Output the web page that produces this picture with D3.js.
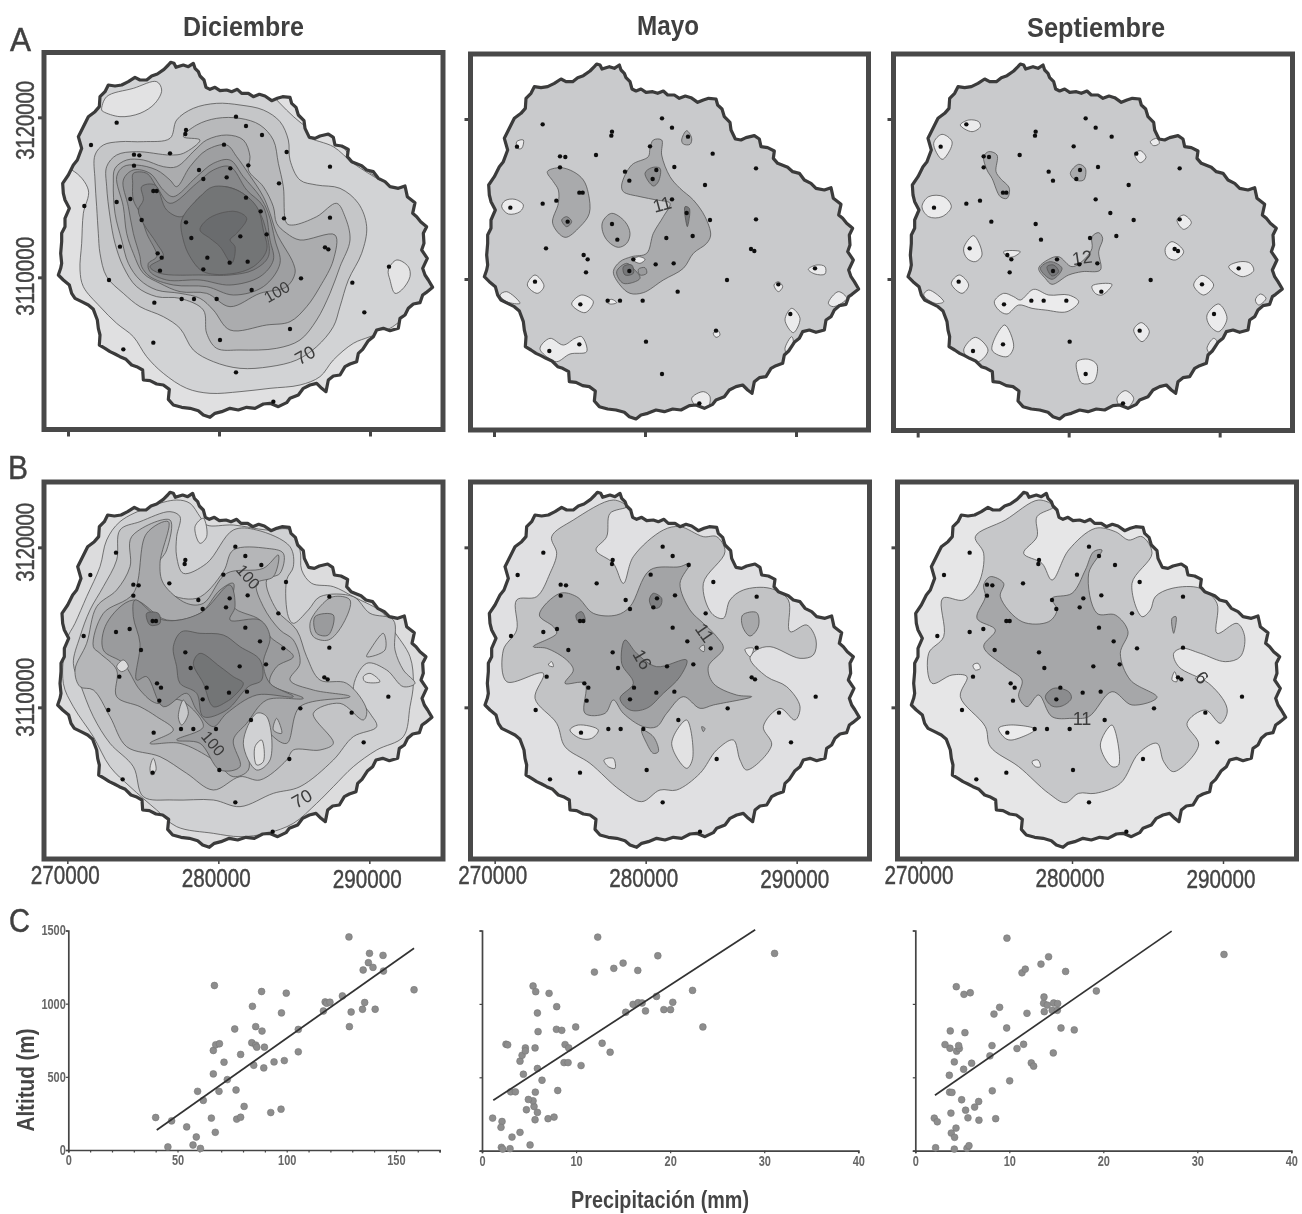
<!DOCTYPE html>
<html><head><meta charset="utf-8">
<script src="https://cdn.jsdelivr.net/npm/d3@7/dist/d3.min.js"></script>
<style>html,body{margin:0;background:#fff}svg{display:block}text{font-family:"Liberation Sans",Arial,sans-serif}</style>
</head><body><svg id="c" width="1302" height="1214" font-weight="700"></svg>
<script>
// ---------- DATA ----------
const months = ["Diciembre","Mayo","Septiembre"];
const rowLetters = ["A","B","C"];
const eastTicks = [270000,280000,290000];
const northTicks = [3120000,3110000];

// Digitised map coordinates (survey-sheet units; converted to UTM below)
const coast = [505,195,512,187,522,190,528,202,540,198,550,195,565,200,580,190,585,205,595,215,600,228,612,240,618,262,630,268,645,262,660,272,680,270,695,275,712,268,725,280,745,280,760,290,778,283,795,288,815,302,832,295,848,290,870,292,875,310,888,322,895,345,912,362,915,385,928,412,945,415,960,408,985,402,1000,412,1005,435,1025,438,1045,448,1042,470,1055,485,1085,497,1100,510,1120,515,1135,535,1155,545,1170,560,1195,565,1215,558,1222,590,1245,608,1238,640,1250,650,1262,665,1280,680,1270,700,1272,730,1265,750,1282,775,1268,805,1275,825,1285,840,1298,862,1278,878,1268,885,1260,908,1240,912,1225,925,1215,945,1200,955,1195,985,1170,992,1150,985,1130,990,1120,1010,1105,1022,1088,1048,1075,1060,1070,1085,1050,1092,1035,1100,1020,1125,1000,1128,985,1140,978,1175,965,1165,950,1150,930,1155,910,1165,895,1185,870,1195,860,1208,835,1220,810,1210,790,1212,765,1225,740,1222,715,1230,690,1225,665,1235,645,1240,630,1252,610,1245,595,1232,570,1225,545,1222,520,1215,505,1198,508,1168,490,1155,470,1152,450,1142,430,1140,428,1110,410,1100,395,1095,378,1078,360,1070,345,1062,330,1055,315,1045,298,1035,300,1005,295,985,292,960,280,928,265,915,245,905,225,895,215,880,208,855,190,840,175,825,182,805,185,790,182,760,185,725,185,700,195,680,195,655,208,625,195,600,190,580,188,550,205,525,220,495,232,480,245,445,235,410,250,380,265,350,285,335,298,320,300,290,315,275,325,255,345,258,365,255,385,245,405,232,420,240,440,240,455,228,472,222,492,208];
const stations = [350,368,273,435,253,618,327,840,370,1048,460,1028,463,908,545,897,582,897,650,897,755,870,903,835,1057,848,1093,937,870,987,660,1020,708,1117,820,1205,1167,800,975,742,985,748,990,653,852,655,800,703,782,634,837,550,860,456,990,500,786,405,738,378,708,350,672,434,745,496,691,505,680,532,738,593,597,510,610,537,510,460,402,464,418,466,402,497,460,573,470,573,391,597,350,606,425,660,558,667,574,714,721,709,622,773,689,788,743,785,610,808,480,812,473,760,485,773,360,740,558,390,556,402];

const decA = [
 [215,510,265,570,250,640,245,730,240,810,250,860,300,920,350,970,400,1010,440,1070,490,1120,560,1165,630,1180,720,1175,810,1165,900,1155,960,1130,1000,1080,1060,1030,1110,1010,1170,985,1200,965,1320,900,1330,500,950,400,600,100,200,150,100,500],
 [305,330,320,290,400,265,470,245,485,270,465,310,420,340,360,350,310,335],
 [1165,810,1190,780,1225,800,1230,830,1205,870,1185,880,1170,840],
 [935,415,1000,440,1060,490,1140,540,1060,480,1000,410],
 [510,415,530,360,580,325,650,310,720,315,790,330,840,365,865,420,870,480,900,540,950,555,1020,565,1075,610,1100,680,1085,760,1045,840,1020,920,1000,980,950,1040,890,1080,810,1100,720,1105,640,1085,580,1050,540,985,490,950,420,920,370,880,320,830,300,760,295,700,290,620,285,540,285,465,310,435,360,425,430,425],
 [550,410,590,375,650,355,720,355,780,375,820,420,835,490,850,560,860,670,880,675,950,650,1010,610,1035,650,1050,720,1020,800,990,880,950,960,900,1020,830,1045,720,1050,650,1045,620,1000,610,930,540,895,470,890,410,860,370,800,345,730,330,650,320,560,320,500,350,465,410,455,510,465,550,460,600,420],
 [585,450,620,420,680,405,730,420,750,470,745,510,790,560,820,620,830,670,860,700,900,720,1005,705,1000,780,960,860,920,920,870,965,800,975,690,990,640,930,600,895,540,880,470,870,420,840,385,790,365,720,345,640,340,550,345,505,380,480,430,480,490,500,530,500],
 [530,560,570,500,620,450,680,435,710,470,745,520,790,590,810,640,830,700,880,790,885,820,860,860,780,880,690,920,620,880,540,875,480,850,430,820,400,760,380,700,370,620,350,530,370,500,410,495,470,510,510,540],
 [520,590,590,530,640,490,690,480,730,530,780,590,805,640,825,720,840,790,790,860,700,885,620,860,520,855,450,830,425,800,420,770,400,700,385,620,370,540,400,510,450,520,490,570],
 [400,520,440,520,470,560,510,610,590,550,640,510,690,500,740,570,790,620,810,720,820,780,780,830,690,855,600,840,500,840,450,815,445,790,470,770,440,700,420,640,400,600,398,550],
 [425,560,465,555,500,630,545,650,600,590,660,560,720,575,775,630,800,700,805,770,760,810,690,825,610,825,480,820,450,800,490,770,470,730,430,670,415,630,430,600],
 [545,660,600,590,640,560,710,570,770,620,790,690,800,750,760,800,690,822,610,815,570,770,550,720],
 [600,690,620,660,660,640,710,635,740,655,710,700,690,720,705,740,695,790,660,740,630,715]
];
const decAShade = ["#d2d3d5","#e2e2e3","#e4e4e5","#e0e0e1","#c5c6c8","#b8b9bb","#abacae","#9e9fa1","#929395","#87888a","#7c7d7f","#737476","#6b6c6e"];

const mayA = [
 [292,515,330,503,370,515,400,540,415,580,418,640,390,680,345,712,308,670,325,610,325,570,310,545],
 [458,665,485,640,525,665,540,700,530,730,505,742,475,725,458,695],
 [600,445,610,420,635,420,635,465,660,530,690,565,730,600,765,650,782,705,770,730,730,760,700,805,640,840,580,878,540,880,510,855,490,815,510,785,545,770,590,760,610,700,640,650,660,610,620,600,570,590,520,575,515,555,545,495,595,470],
 [695,420,710,392,725,415,720,433,700,432],
 [585,520,605,503,630,505,625,545,610,558],
 [500,815,530,790,550,805,570,835,520,850],
 [335,660,350,650,365,665,350,680],
 [520,800,545,795,550,820,525,825],
 [705,620,718,625,712,680],
 [565,808,585,803,590,820,570,825],
 [155,620,165,602,195,598,220,615,210,635,175,642],
 [232,855,255,825,282,858,262,880],
 [365,912,395,885,430,905,405,938],
 [270,1045,300,1015,340,1035,375,1015,395,1010,410,1055,360,1062,320,1085,290,1070],
 [725,1195,760,1175,780,1190,770,1230,745,1225],
 [1005,960,1025,925,1050,955,1030,998],
 [1075,808,1100,795,1125,800,1125,822,1095,822],
 [972,855,985,845,998,860,985,875],
 [150,885,170,875,210,910,170,905],
 [1135,910,1165,875,1190,895,1150,920],
 [200,425,220,420,215,445,203,445],
 [1005,1045,1025,1010,1030,1025,1010,1060],
 [790,1000,802,990,810,1005,798,1012],
 [470,905,485,898,500,908,480,912],
 [550,780,565,770,585,778,570,790]
];
const mayAShade = ["#a9aaac","#a9aaac","#a9aaac","#a9aaac","#8f9092","#8f9092","#8f9092","#77787a","#77787a","#9a9b9d"].concat(d3.range(15).map(()=>"#ebebec"));

const sepA = [
 [335,470,350,455,375,465,372,515,385,535,412,565,405,595,385,590,360,535,345,510],
 [595,520,620,493,640,505,635,540,610,540],
 [500,805,530,778,560,770,600,800,640,775,660,745,660,710,680,698,692,715,680,755,685,810,630,815,590,825,540,853,520,835],
 [505,805,535,785,570,805,540,838],
 [525,800,545,795,560,815,540,828],
 [265,375,290,360,320,365,325,380,300,395],
 [185,430,210,403,240,425,225,465,210,478],
 [150,620,170,590,215,590,238,620,210,650,170,650],
 [275,745,305,707,330,765,310,785,285,775],
 [238,850,262,825,290,855,270,880],
 [155,885,170,870,215,905,190,910],
 [367,905,395,880,425,890,445,900,485,868,530,885,590,885,620,905,585,935,520,930,480,925,440,915,405,942,380,930],
 [275,1050,310,1012,348,1050,320,1085,290,1075],
 [360,1050,398,975,425,1040,405,1070],
 [615,1085,650,1078,675,1095,665,1145,630,1150,618,1125],
 [735,1195,760,1172,785,1195,765,1225,748,1225],
 [785,990,808,968,832,995,810,1025],
 [1005,945,1040,912,1065,955,1040,995,1012,975],
 [965,855,990,826,1025,855,995,885],
 [1070,800,1105,785,1135,790,1145,812,1110,830],
 [880,745,900,725,935,755,910,780,885,770],
 [915,660,935,645,958,668,935,688],
 [788,462,805,452,822,472,805,488],
 [660,858,720,853,690,885,670,880],
 [395,755,445,755,425,770,405,770],
 [835,425,855,415,862,430,845,437],
 [1150,900,1165,882,1182,895,1160,915],
 [1005,1045,1025,1015,1035,1025,1015,1060]
];
const sepAShade = ["#a9aaac","#a9aaac","#a9aaac","#88898b","#77787a"].concat(d3.range(23).map(()=>"#ebebec"));

const decB = [
 [200,570,225,520,260,440,300,350,320,270,360,215,450,170,530,150,570,160,600,200,620,225,700,225,800,240,870,240,900,300,905,360,935,400,1000,410,1060,440,1150,490,1180,540,1230,620,1240,700,1230,770,1210,860,1130,900,1060,950,1000,1010,950,1060,880,1120,800,1150,720,1160,640,1150,530,1130,470,1080,390,1010,330,950,280,860,220,770,190,700],
 [220,640,240,560,270,480,310,410,350,330,360,240,420,215,510,185,540,200,530,260,530,320,550,370,620,340,700,240,770,240,870,290,880,350,860,390,865,500,880,520,925,480,960,440,1060,440,1110,490,1180,510,1185,600,1210,660,1245,700,1210,710,1160,660,1100,640,1060,720,1110,790,1130,830,1060,860,1000,930,900,1010,820,1030,720,1070,640,1050,520,1050,430,1040,400,950,330,880,280,800,240,700],
 [585,230,610,205,620,260,600,280],
 [225,660,260,580,290,470,350,420,390,350,395,260,510,210,500,300,470,350,490,420,590,445,670,365,700,300,800,295,850,310,840,370,800,390,830,480,890,540,920,620,960,690,1040,700,1100,780,1090,810,1020,760,940,790,1000,880,960,900,880,900,860,930,780,990,720,980,640,1020,560,970,480,920,380,890,330,800,280,720,240,710],
 [930,520,960,470,1000,440,1050,450,1030,520,985,570,940,560],
 [945,500,1000,495,985,555,950,550],
 [1110,600,1150,550,1155,600,1100,620],
 [280,590,310,490,400,430,440,250,505,215,480,340,490,400,560,460,610,460,680,370,790,355,835,315,820,380,770,400,790,470,840,540,880,570,900,640,870,690,940,720,1050,740,900,770,860,880,810,850,780,790,740,860,745,960,700,980,640,930,540,880,450,880,520,840,470,800,420,770,350,740,350,660,300,610],
 [320,520,400,450,500,510,600,490,660,420,700,400,700,470,780,510,810,560,850,590,880,620,830,650,810,700,910,745,800,750,740,820,700,870,720,950,660,960,600,880,530,870,610,830,540,750,470,760,420,720,370,640,310,600],
 [405,450,490,510,600,490,690,405,705,470,690,510,780,510,810,560,790,640,810,700,880,740,770,735,680,790,640,830,590,780,560,730,490,770,440,680,410,690,420,580,400,500],
 [520,590,545,545,600,550,670,555,720,590,780,630,785,690,745,710,680,780,610,800,590,730,540,700,530,650],
 [580,640,600,610,660,650,700,680,730,700,700,740,680,755,640,770,610,700],
 [350,650,370,630,385,650,365,665],
 [535,800,550,750,565,790,545,825],
 [730,880,770,790,800,800,810,930,770,960],
 [765,890,785,870,790,935,770,945],
 [820,840,830,805,845,850],
 [450,955,460,925,468,960,455,975],
 [1090,680,1110,670,1140,695,1095,695],
 [440,490,475,490,480,520,450,525]
];
const decBShade = ["#d0d1d3","#c3c4c6","#dcdcdd","#b5b6b8","#b0b1b3","#9a9b9d","#c3c4c6","#a8a9ab","#9a9b9d","#8d8e90","#7f8082","#737476","#dadadb","#c8c9cb","#d0d1d3","#e0e0e0","#c3c4c6","#dddddd","#dcdcdd","#757678"];

const mayB = [
 [160,600,200,540,200,450,260,440,300,370,320,310,305,260,370,210,490,150,530,170,480,190,470,260,438,300,490,340,520,400,550,320,640,240,690,230,760,260,800,260,825,305,760,400,785,490,820,505,840,450,880,420,960,415,1015,450,1020,545,1070,525,1098,570,1090,615,1050,625,960,590,920,600,900,625,950,680,1010,710,1050,770,1035,810,990,775,940,830,965,885,890,960,870,930,850,870,800,900,750,970,680,1020,630,1020,575,1055,510,1020,420,940,345,890,320,820,255,745,280,670,170,695],
 [360,840,385,825,445,840,425,865,390,865],
 [462,930,490,925,495,955,475,950],
 [665,880,710,810,728,925,710,955],
 [885,598,910,595,900,620],
 [295,645,305,635,310,650],
 [268,495,330,430,380,440,430,490,500,495,540,470,600,360,690,350,720,340,690,400,720,480,760,520,800,560,820,595,775,650,790,700,860,735,905,740,790,765,750,775,700,740,650,790,620,830,580,830,520,790,490,750,465,790,405,790,405,700,345,700,370,660,350,630,290,595,250,590,320,550,310,530],
 [575,840,610,860,625,905,610,910,590,880],
 [878,495,920,488,925,530,900,558,878,530],
 [748,595,762,585,762,605],
 [515,640,525,570,560,610,620,650,710,630,690,680,640,730,590,775,540,780,510,745,550,700],
 [598,450,610,430,635,445,630,470,610,475],
 [378,495,395,485,405,510,385,515],
 [755,830,765,835,760,845]
];
const mayBShade = ["#c2c3c5","#e2e2e3","#e2e2e3","#e2e2e3","#e8e8e9","#e8e8e9","#a3a4a6","#a3a4a6","#a7a8aa","#d5d5d6","#858688","#7f8082","#808183","#a3a4a6"];

const sepB = [
 [170,610,215,560,212,445,275,450,320,400,335,310,310,260,400,210,500,150,545,170,495,200,495,260,455,310,510,340,540,390,590,300,670,235,730,245,770,270,810,260,840,310,780,400,810,500,835,480,850,440,900,415,985,415,1035,460,1035,550,1095,520,1118,560,1105,620,1060,635,985,610,930,595,905,610,920,650,1010,700,1060,760,1065,790,1045,820,1000,780,945,820,980,885,905,965,875,935,855,880,800,910,745,1000,670,1030,620,1030,580,1058,530,1030,440,950,355,890,340,830,265,740,285,680,240,675,180,700],
 [380,835,415,825,490,838,420,870,400,865],
 [480,935,498,930,505,950,490,950],
 [685,885,720,825,740,945,720,950],
 [303,645,318,640,325,655,310,660],
 [900,690,908,665,915,695],
 [900,505,912,500,905,550],
 [970,685,1000,668,1005,680,985,695],
 [315,505,340,440,335,405,355,380,395,400,385,440,450,515,530,515,555,480,540,445,600,430,640,360,665,305,690,300,650,370,675,490,730,495,768,545,745,610,775,690,855,742,780,765,720,725,650,800,600,805,540,800,500,735,465,770,440,740,450,690,400,650,335,590,370,540],
 [520,740,545,715,590,725,598,745,570,768,540,768]
];
const sepBShade = ["#c6c7c9","#ebebec","#ebebec","#ebebec","#ebebec","#ebebec","#a6a7a9","#ebebec","#a6a7a9","#8b8c8e"];

const decALabels = [["100",830,875,-30],["70",915,1065,-30]];
const mayALabels = [["11",636,612,-15]];
const sepALabels = [["12",630,772,-8]];
const decBLabels = [["100",745,380,50],["100",640,880,50],["70",905,1045,-30]];
const mayBLabels = [["11",765,548,55],["16",578,628,60]];
const sepBLabels = [["6",990,682,45],["11",630,805,0]];

// Scatter: precipitation (mm) and altitude (m)
const precDec = [40,47.3,54.2,45.6,58.6,57.1,60.5,59.2,61.8,65.5,67.3,66.4,66.4,67.5,69.2,69,66.9,71.3,72.8,76.2,76.8,77.1,78.9,78.9,80.5,84,84.3,84.9,85.8,85.8,86.3,88.7,88.5,89.8,89.5,92.7,94.2,97.4,97.6,98.9,99.8,105.3,105.3,116.8,117.6,118.3,119.8,125.5,128.5,128.7,129.5,134.7,135,135.7,137.4,137.9,139.5,140.5,144.1,144.3,158.3];
const altDec = [222,199,158,21,89,34,11,401,339,218,121,520,680,719,726,401,1124,600,481,827,410,211,224,653,298,733,982,579,843,717,703,813,1083,703,561,256,602,279,937,611,1072,824,671,950,1012,1003,1010,1053,1456,843,943,962,1230,1008,1280,1344,1248,962,1330,1223,1095];
const lineDec = [[40.5,137],[158.3,1379]];
const precMay = [1.13,2.13,2.02,4.04,3.19,2.06,2.2,2.98,5.11,5.64,4.72,5.89,5.53,5.43,4.93,5.67,3.05,3.55,8.05,6.38,4.4,5.89,4.04,4.26,4.61,4.61,2.55,2.73,5.64,5.96,5.89,5.43,5.71,7.13,7.94,7.91,8.48,9.96,8.83,9.22,8.72,9.15,10.53,7.02,7.66,12.77,13.62,11.95,14.01,15,12.3,16.56,18.69,15.28,16.06,16.6,17.02,17.38,18.55,19.33,20.04,20.28,22.38,23.48,31.1];
const altMay = [222,199,159,125,93,23,11,14,39,211,279,261,301,340,349,399,401,401,410,480,521,560,610,650,700,680,725,721,700,811,938,1122,1083,1072,981,827,820,843,723,700,600,600,580,218,229,732,671,1217,1242,1278,1455,1228,1328,943,997,1008,1006,952,1051,961,961,1011,1092,843,1344];
const lineMay = [[1.2,344],[29.04,1505]];
const precSep = [2.02,2.34,2.16,4.33,3.83,4.18,4.15,5.5,5.71,3.79,5.6,5.35,6.31,6.74,4.93,6.77,8.55,8.19,3.65,3.9,10.04,3.62,5.14,5.99,4.15,7.94,4.4,4.68,4.61,3.69,3.16,3.72,5.28,4.36,5.18,5.85,8.37,8.97,8.16,9.72,11.88,10.82,11.52,12.34,12.59,14.68,15.5,16.91,13.72,14.57,15.11,13.65,14.04,14.72,15.14,13.69,11.35,11.7,13.37,14.18,15.99,9.75,19.26,32.84];
const altSep = [222,197,20,154,120,91,11,16,34,256,224,276,297,335,347,208,218,408,399,397,476,514,555,596,605,646,678,696,716,698,723,816,804,1117,1065,1076,931,977,716,836,936,696,725,598,576,666,836,823,947,956,956,1004,992,1006,1002,1047,1212,1237,1271,1321,1221,1448,1088,1337];
const lineSep = [[2.09,378],[27.27,1496]];

// ---------- DRAW ----------
const svg = d3.select("#c");
svg.append("defs").append("filter").attr("id","soft")
  .attr("filterUnits","userSpaceOnUse").attr("x",0).attr("y",0).attr("width",1302).attr("height",1214)
  .append("feGaussianBlur").attr("stdDeviation",0.45);
const root = svg.append("g").attr("filter","url(#soft)");
const ink = "#444";
const pairs = a => d3.range(0,a.length,2).map(i=>[a[i],a[i+1]]);
const sheetPerKmX = 45.3, sheetPerKmY = 48;
const toUTM = (p,cx,cy) => [280000+(p[0]-cx)/sheetPerKmX*1000, 3120000-(p[1]-cy)/sheetPerKmY*1000];

function squeezed(sel,str,size,width){
  return sel.text(str).attr("font-size",size).attr("textLength",width).attr("lengthAdjust","spacingAndGlyphs");
}
// medium-weight look of the scanned numerals
const medium = sel => sel.attr("font-weight",400).attr("stroke",ink).attr("stroke-width",0.45);

const mapPanels = [
 {ox:0,  oy:0,  cx:657,cy:352,frame:[44,52.5,443,429.5],layers:decA,shade:decAShade,labels:decALabels,row:0},
 {ox:450,oy:0,  cx:585,cy:357,frame:[470.5,54,868.5,430],layers:mayA,shade:mayAShade,labels:mayALabels,row:0},
 {ox:872,oy:0,  cx:590,cy:357,frame:[893.5,54,1292.5,430.5],layers:sepA,shade:sepAShade,labels:sepALabels,row:0},
 {ox:0,  oy:450,cx:655,cy:292,frame:[44,482,443,859],layers:decB,shade:decBShade,labels:decBLabels,row:1},
 {ox:450,oy:450,cx:587,cy:292,frame:[470.5,482,869.5,859],layers:mayB,shade:mayBShade,labels:mayBLabels,row:1},
 {ox:872,oy:450,cx:600,cy:292,frame:[897.5,482,1296.5,859],layers:sepB,shade:sepBShade,labels:sepBLabels,row:1}
];
const refX=657, refY=352;
const coastUTM = pairs(coast).map(p=>toUTM(p,refX,refY));
const stationsUTM = pairs(stations).map(p=>toUTM(p,refX,refY));
const xLabelBase=[884,887,888];

mapPanels.forEach((p,i)=>{
  const x = d3.scaleLinear().domain([270000,290000]).range([p.ox+(p.cx-453)/3, p.ox+(p.cx+453)/3]);
  const y = d3.scaleLinear().domain([3110000,3120000]).range([p.oy+(p.cy+480)/3, p.oy+p.cy/3]);
  const g = root.append("g");
  const [fx0,fy0,fx1,fy1]=p.frame;
  const coastLine = d3.line().x(d=>x(d[0])).y(d=>y(d[1])).curve(d3.curveLinearClosed);
  const contourLine = d3.line().x(d=>x(d[0])).y(d=>y(d[1])).curve(d3.curveCatmullRomClosed.alpha(0.5));
  svg.select("defs").append("clipPath").attr("id","isl"+i).append("path").attr("d",coastLine(coastUTM));
  const base = ["#e0e0e1","#c9cacc","#c9cacc","#dcdcdd","#e0e0e2","#e6e6e7"][i];
  g.append("path").attr("d",coastLine(coastUTM)).attr("fill",base);
  const clip = g.append("g").attr("clip-path",`url(#isl${i})`);
  p.layers.forEach((l,k)=>{
    clip.append("path").attr("d",contourLine(pairs(l).map(q=>toUTM(q,p.cx,p.cy))))
      .attr("fill",p.shade[k]).attr("stroke","#555").attr("stroke-width",0.8);
  });
  p.labels.forEach(l=>{
    const u=toUTM([l[1],l[2]],p.cx,p.cy);
    g.append("text").attr("transform",`translate(${x(u[0])},${y(u[1])}) rotate(${l[3]})`)
      .attr("text-anchor","middle").attr("dy","0.36em").attr("font-size",l[0].length>2?16:18).attr("font-weight",400).attr("fill","#3a3a3a").text(l[0]);
  });
  g.append("path").attr("d",coastLine(coastUTM)).attr("fill","none").attr("stroke","#3a3a3a").attr("stroke-width",3.2).attr("stroke-linejoin","round");
  g.selectAll("circle").data(stationsUTM).join("circle").attr("cx",d=>x(d[0])).attr("cy",d=>y(d[1])).attr("r",2.2).attr("fill","#111");
  g.append("rect").attr("x",fx0).attr("y",fy0).attr("width",fx1-fx0).attr("height",fy1-fy0).attr("fill","none").attr("stroke","#4a4a4a").attr("stroke-width",5);
  const ax = g.append("g").attr("transform",`translate(0,${fy1+2})`).call(d3.axisBottom(x).tickValues(eastTicks).tickSize(p.row?3:5).tickFormat(""));
  ax.select(".domain").remove(); ax.selectAll("line").attr("stroke",ink).attr("stroke-width",p.row?1.5:3);
  const ay = g.append("g").attr("transform",`translate(${fx0-2},0)`).call(d3.axisLeft(y).tickValues(northTicks).tickSize(4).tickFormat(""));
  ay.select(".domain").remove(); ay.selectAll("line").attr("stroke",ink).attr("stroke-width",3);
  if(p.row===1){
    eastTicks.forEach((t,j)=>{
      squeezed(medium(g.append("text").attr("x",x(t)-2).attr("y",xLabelBase[j]).attr("text-anchor","middle").attr("fill",ink)),String(t),26,69);
    });
  }
  if(i===0||i===3){
    northTicks.forEach((t,j)=>{
      const dy = i===0?[3,-1][j]:[-5,-10][j];
      squeezed(medium(g.append("text").attr("transform",`translate(34,${y(t)+dy}) rotate(-90)`).attr("text-anchor","middle").attr("fill",ink)),String(t),26,79);
    });
  }
});

// Titles and letters
[[months[0],183,304,36],[months[1],637,699,35],[months[2],1027,1165,37]].forEach(t=>{
  squeezed(root.append("text").attr("x",t[1]).attr("y",t[3]).attr("fill","#3f3f3f"),t[0],28,t[2]-t[1]);
});
[[rowLetters[0],10,51,21],[rowLetters[1],8,479,20],[rowLetters[2],9,932,21]].forEach(t=>{
  squeezed(medium(root.append("text").attr("x",t[1]).attr("y",t[2]).attr("fill","#3f3f3f")),t[0],33,t[3]);
});

// Scatter panels
const scatter = [
 {prec:precDec,alt:altDec,line:lineDec,xMax:170,rx:[68.3,439.6],step:10,base:1150,labelEvery:50,yLabels:true},
 {prec:precMay,alt:altMay,line:lineMay,xMax:40,rx:[482,858.3],step:10,base:1150.7,labelEvery:10,yLabels:false},
 {prec:precSep,alt:altSep,line:lineSep,xMax:40,rx:[915.3,1291.3],step:10,base:1150.7,labelEvery:10,yLabels:false}
];
scatter.forEach(s=>{
  const x=d3.scaleLinear().domain([0,s.xMax]).range(s.rx);
  const y=d3.scaleLinear().domain([0,1500]).range([s.base,930.5]);
  const g=root.append("g");
  const ax=g.append("g").attr("transform",`translate(0,${s.base})`)
    .call(d3.axisBottom(x).tickValues(d3.range(0,s.xMax+1,s.step)).tickSize(2.5).tickPadding(3).tickFormat(d=>d%s.labelEvery===0?d:""));
  const ay=g.append("g").attr("transform",`translate(${s.rx[0]},0)`)
    .call(d3.axisLeft(y).tickValues([0,500,1000,1500]).tickSize(2.5).tickPadding(0).tickFormat(d=>s.yLabels?d:""));
  [ax,ay].forEach(a=>{
    a.select(".domain").attr("stroke",ink).attr("stroke-width",1.7);
    a.selectAll("line").attr("stroke",ink).attr("stroke-width",1.2);
    a.selectAll("text").attr("fill","#666").attr("font-size",14).attr("font-family",'"Liberation Sans"').attr("font-weight",700)
      .each(function(){const t=this.textContent; if(t) d3.select(this).attr("textLength",t.length*6.1).attr("lengthAdjust","spacingAndGlyphs");});
  });
  g.selectAll("circle").data(d3.zip(s.prec,s.alt)).join("circle").attr("cx",d=>x(d[0])).attr("cy",d=>y(d[1])).attr("r",3.4).attr("fill","#8d8d8d").attr("stroke","#777").attr("stroke-width",0.6);
  g.append("path").attr("d",d3.line().x(d=>x(d[0])).y(d=>y(d[1]))(s.line)).attr("stroke","#333").attr("stroke-width",1.7).attr("fill","none");
});
squeezed(root.append("text").attr("transform","translate(34,1080) rotate(-90)").attr("text-anchor","middle").attr("fill","#444"),"Altitud (m)",24,103);
squeezed(root.append("text").attr("x",660).attr("y",1208).attr("text-anchor","middle").attr("fill","#444"),"Precipitación (mm)",23,178);
</script></body></html>
